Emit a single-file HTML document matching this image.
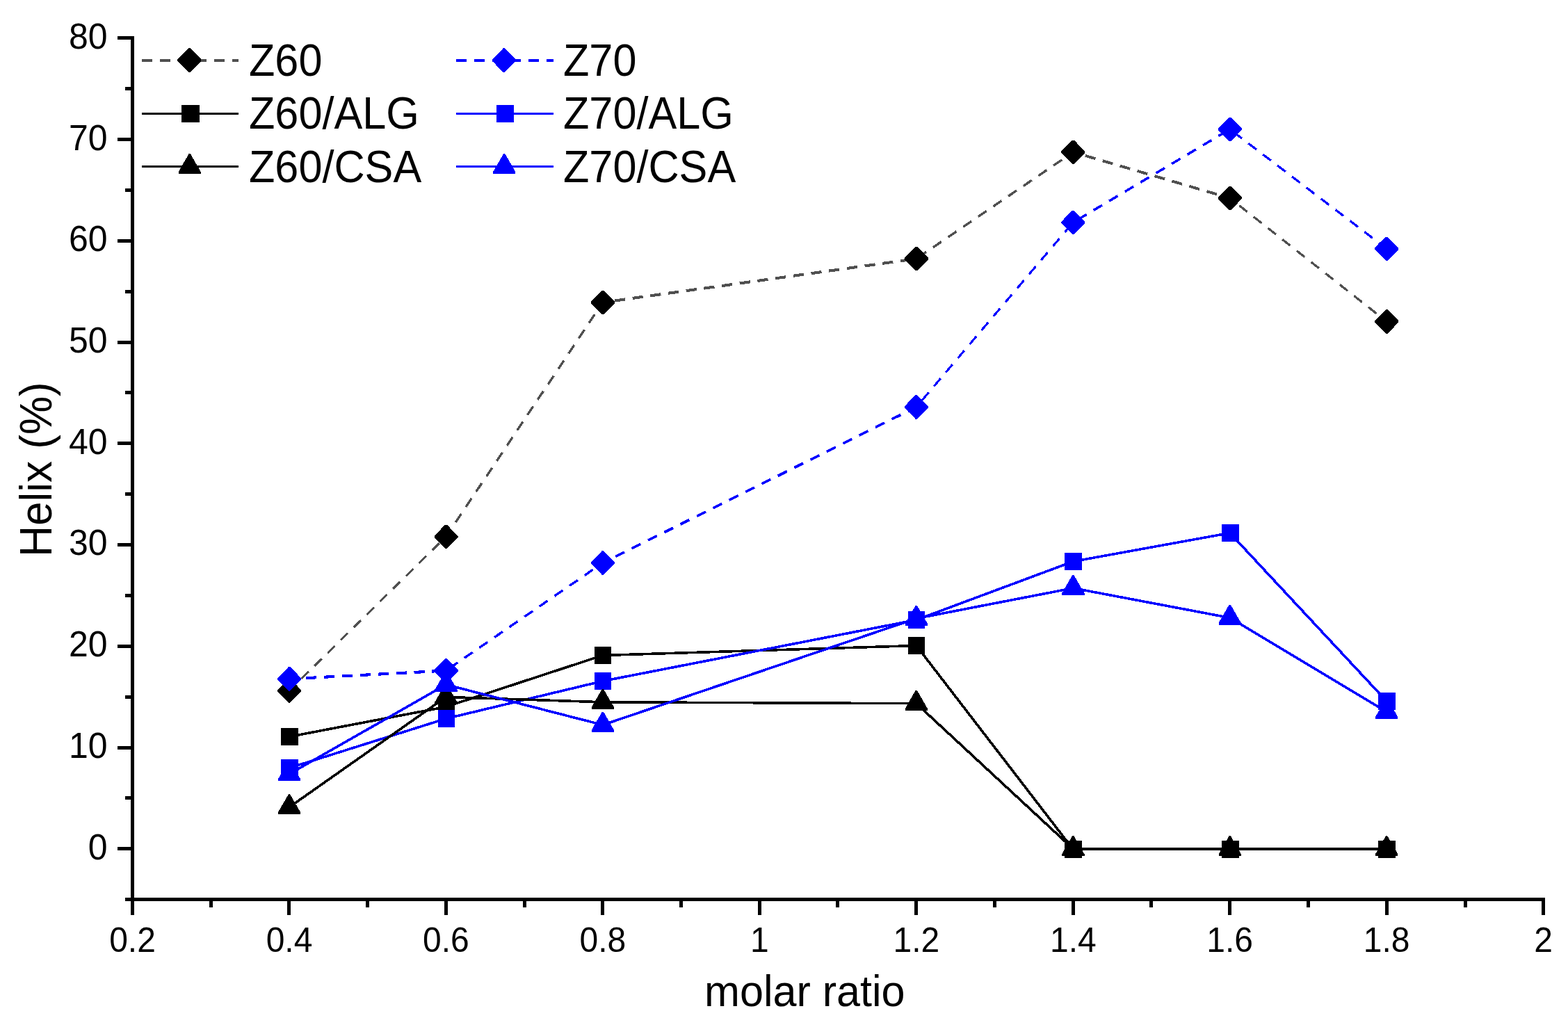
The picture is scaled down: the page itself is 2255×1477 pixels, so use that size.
<!DOCTYPE html>
<html lang="en"><head><meta charset="utf-8"><title>Helix (%) vs molar ratio</title>
<style>html,body{margin:0;padding:0;background:#fff}body{width:2255px;height:1477px;overflow:hidden}svg{display:block}</style>
</head><body>
<svg width="2255" height="1477" viewBox="0 0 2255 1477">
<rect width="2255" height="1477" fill="#fff"/>
<g shape-rendering="crispEdges">
<g transform="scale(1 1.035)" fill="none" stroke="#505050">
<line x1="416.0" y1="959.81" x2="641.4" y2="745.80" stroke-width="3.00" stroke-dasharray="14.3 11.62" stroke-dashoffset="1.70"/>
<line x1="641.4" y1="745.80" x2="866.9" y2="420.19" stroke-width="3.32" stroke-dasharray="14.3 11.62" stroke-dashoffset="1.52"/>
<line x1="866.9" y1="420.19" x2="1317.8" y2="359.52" stroke-width="3.96" stroke-dasharray="15.2 10.72" stroke-dashoffset="8.76"/>
<line x1="1317.8" y1="359.52" x2="1543.3" y2="211.40" stroke-width="3.31" stroke-dasharray="14.3 11.62" stroke-dashoffset="23.10"/>
<line x1="1543.3" y1="211.40" x2="1768.7" y2="275.27" stroke-width="3.84" stroke-dasharray="15.2 10.72" stroke-dashoffset="7.74"/>
<line x1="1768.7" y1="275.27" x2="1994.2" y2="446.76" stroke-width="3.14" stroke-dasharray="14.3 11.62" stroke-dashoffset="8.80"/>
</g>
<path d="M414.9 976.1L417.3 976.1L433.1 992.2L433.1 994.6L417.3 1010.7L414.9 1010.7L399.1 994.6L399.1 992.2Z" fill="#000"/>
<path d="M640.3 754.6L642.7 754.6L658.5 770.7L658.5 773.1L642.7 789.2L640.3 789.2L624.5 773.1L624.5 770.7Z" fill="#000"/>
<path d="M865.8 417.6L868.2 417.6L884.0 433.7L884.0 436.1L868.2 452.2L865.8 452.2L850.0 436.1L850.0 433.7Z" fill="#000"/>
<path d="M1316.7 354.8L1319.1 354.8L1334.9 370.9L1334.9 373.3L1319.1 389.4L1316.7 389.4L1300.9 373.3L1300.9 370.9Z" fill="#000"/>
<path d="M1542.2 201.5L1544.6 201.5L1560.4 217.6L1560.4 220.0L1544.6 236.1L1542.2 236.1L1526.4 220.0L1526.4 217.6Z" fill="#000"/>
<path d="M1767.6 267.6L1770.0 267.6L1785.8 283.7L1785.8 286.1L1770.0 302.2L1767.6 302.2L1751.8 286.1L1751.8 283.7Z" fill="#000"/>
<path d="M1993.1 445.1L1995.5 445.1L2011.3 461.2L2011.3 463.6L1995.5 479.7L1993.1 479.7L1977.3 463.6L1977.3 461.2Z" fill="#000"/>
<g transform="scale(1 1.035)" fill="none" stroke="#00f">
<line x1="416.0" y1="943.38" x2="641.4" y2="931.88" stroke-width="3.99" stroke-dasharray="15.2 10.72" stroke-dashoffset="1.70"/>
<line x1="641.4" y1="931.88" x2="866.9" y2="782.13" stroke-width="3.30" stroke-dasharray="14.3 11.62" stroke-dashoffset="20.09"/>
<line x1="866.9" y1="782.13" x2="1317.8" y2="565.60" stroke-width="3.58" stroke-dasharray="14.3 11.62" stroke-dashoffset="5.64"/>
<line x1="1317.8" y1="565.60" x2="1543.3" y2="309.08" stroke-width="3.05" stroke-dasharray="14.3 11.62" stroke-dashoffset="13.37"/>
<line x1="1543.3" y1="309.08" x2="1768.7" y2="179.61" stroke-width="3.44" stroke-dasharray="14.3 11.62" stroke-dashoffset="17.93"/>
<line x1="1768.7" y1="179.61" x2="1994.2" y2="345.70" stroke-width="3.18" stroke-dasharray="14.3 11.62" stroke-dashoffset="18.72"/>
</g>
<path d="M414.9 959.1L417.3 959.1L433.1 975.2L433.1 977.6L417.3 993.7L414.9 993.7L399.1 977.6L399.1 975.2Z" fill="#00f"/>
<path d="M640.3 947.2L642.7 947.2L658.5 963.3L658.5 965.7L642.7 981.8L640.3 981.8L624.5 965.7L624.5 963.3Z" fill="#00f"/>
<path d="M865.8 792.2L868.2 792.2L884.0 808.3L884.0 810.7L868.2 826.8L865.8 826.8L850.0 810.7L850.0 808.3Z" fill="#00f"/>
<path d="M1316.7 568.1L1319.1 568.1L1334.9 584.2L1334.9 586.6L1319.1 602.7L1316.7 602.7L1300.9 586.6L1300.9 584.2Z" fill="#00f"/>
<path d="M1542.2 302.6L1544.6 302.6L1560.4 318.7L1560.4 321.1L1544.6 337.2L1542.2 337.2L1526.4 321.1L1526.4 318.7Z" fill="#00f"/>
<path d="M1767.6 168.6L1770.0 168.6L1785.8 184.7L1785.8 187.1L1770.0 203.2L1767.6 203.2L1751.8 187.1L1751.8 184.7Z" fill="#00f"/>
<path d="M1993.1 340.5L1995.5 340.5L2011.3 356.6L2011.3 359.0L1995.5 375.1L1993.1 375.1L1977.3 359.0L1977.3 356.6Z" fill="#00f"/>
<polyline points="416.0,1059.5 641.4,1016.5 866.9,942.5 1317.8,928.5 1543.3,1221.5 1768.7,1221.5 1994.2,1221.5" fill="none" stroke="#000" stroke-width="3.6" stroke-linejoin="round"/>
<rect x="404" y="1047" width="25" height="25" fill="#000"/>
<rect x="630" y="1004" width="24" height="25" fill="#000"/>
<rect x="855" y="930" width="24" height="25" fill="#000"/>
<rect x="1306" y="916" width="24" height="25" fill="#000"/>
<rect x="1531" y="1209" width="25" height="25" fill="#000"/>
<rect x="1757" y="1209" width="25" height="25" fill="#000"/>
<rect x="1982" y="1209" width="25" height="25" fill="#000"/>
<polyline points="416.0,1104.5 641.4,1033.5 866.9,979.5 1317.8,891.5 1543.3,807.5 1768.7,766.5 1994.2,1008.5" fill="none" stroke="#00f" stroke-width="3.6" stroke-linejoin="round"/>
<rect x="404" y="1092" width="25" height="25" fill="#00f"/>
<rect x="630" y="1021" width="24" height="25" fill="#00f"/>
<rect x="855" y="967" width="24" height="25" fill="#00f"/>
<rect x="1306" y="879" width="24" height="25" fill="#00f"/>
<rect x="1531" y="795" width="25" height="25" fill="#00f"/>
<rect x="1757" y="754" width="25" height="25" fill="#00f"/>
<rect x="1982" y="996" width="25" height="25" fill="#00f"/>
<polyline points="416.0,1160.9 641.4,1002.4 866.9,1009.8 1317.8,1011.7 1543.3,1220.9 1768.7,1220.9 1994.2,1220.9" fill="none" stroke="#000" stroke-width="3.6" stroke-linejoin="round"/>
<path d="M415.0 1142.0L417.0 1142.0L432.2 1168.3L432.2 1171.1L399.8 1171.1L399.8 1168.3Z" fill="#000"/>
<path d="M640.4 983.5L642.4 983.5L657.6 1009.8L657.6 1012.6L625.2 1012.6L625.2 1009.8Z" fill="#000"/>
<path d="M865.9 990.9L867.9 990.9L883.1 1017.2L883.1 1020.0L850.7 1020.0L850.7 1017.2Z" fill="#000"/>
<path d="M1316.8 992.8L1318.8 992.8L1334.0 1019.1L1334.0 1021.9L1301.6 1021.9L1301.6 1019.1Z" fill="#000"/>
<path d="M1542.3 1202.0L1544.3 1202.0L1559.5 1228.3L1559.5 1231.1L1527.1 1231.1L1527.1 1228.3Z" fill="#000"/>
<path d="M1767.7 1202.0L1769.7 1202.0L1784.9 1228.3L1784.9 1231.1L1752.5 1231.1L1752.5 1228.3Z" fill="#000"/>
<path d="M1993.2 1202.0L1995.2 1202.0L2010.4 1228.3L2010.4 1231.1L1978.0 1231.1L1978.0 1228.3Z" fill="#000"/>
<polyline points="416.0,1113.2 641.4,984.6 866.9,1042.6 1317.8,889.5 1543.3,845.8 1768.7,888.5 1994.2,1023.7" fill="none" stroke="#00f" stroke-width="3.6" stroke-linejoin="round"/>
<path d="M415.0 1094.3L417.0 1094.3L432.2 1120.6L432.2 1123.4L399.8 1123.4L399.8 1120.6Z" fill="#00f"/>
<path d="M640.4 965.7L642.4 965.7L657.6 992.0L657.6 994.8L625.2 994.8L625.2 992.0Z" fill="#00f"/>
<path d="M865.9 1023.7L867.9 1023.7L883.1 1050.0L883.1 1052.8L850.7 1052.8L850.7 1050.0Z" fill="#00f"/>
<path d="M1316.8 870.6L1318.8 870.6L1334.0 896.9L1334.0 899.7L1301.6 899.7L1301.6 896.9Z" fill="#00f"/>
<path d="M1542.3 826.9L1544.3 826.9L1559.5 853.2L1559.5 856.0L1527.1 856.0L1527.1 853.2Z" fill="#00f"/>
<path d="M1767.7 869.6L1769.7 869.6L1784.9 895.9L1784.9 898.7L1752.5 898.7L1752.5 895.9Z" fill="#00f"/>
<path d="M1993.2 1004.8L1995.2 1004.8L2010.4 1031.1L2010.4 1033.9L1978.0 1033.9L1978.0 1031.1Z" fill="#00f"/>
</g>
<g fill="#000" shape-rendering="crispEdges">
<rect x="188" y="52" width="5" height="1264"/>
<rect x="180" y="1291" width="2042" height="5"/>
<rect x="169" y="1218" width="21" height="5"/>
<rect x="169" y="1073" width="21" height="5"/>
<rect x="169" y="927" width="21" height="5"/>
<rect x="169" y="781" width="21" height="5"/>
<rect x="169" y="635" width="21" height="5"/>
<rect x="169" y="490" width="21" height="5"/>
<rect x="169" y="344" width="21" height="5"/>
<rect x="169" y="198" width="21" height="5"/>
<rect x="169" y="52" width="21" height="5"/>
<rect x="180" y="1145" width="10" height="5"/>
<rect x="180" y="1000" width="10" height="5"/>
<rect x="180" y="854" width="10" height="5"/>
<rect x="180" y="708" width="10" height="5"/>
<rect x="180" y="562" width="10" height="5"/>
<rect x="180" y="417" width="10" height="5"/>
<rect x="180" y="271" width="10" height="5"/>
<rect x="180" y="125" width="10" height="5"/>
<rect x="413" y="1293" width="5" height="23"/>
<rect x="639" y="1293" width="5" height="23"/>
<rect x="864" y="1293" width="5" height="23"/>
<rect x="1090" y="1293" width="5" height="23"/>
<rect x="1315" y="1293" width="5" height="23"/>
<rect x="1541" y="1293" width="5" height="23"/>
<rect x="1766" y="1293" width="5" height="23"/>
<rect x="1992" y="1293" width="5" height="23"/>
<rect x="2217" y="1293" width="5" height="23"/>
<rect x="301" y="1293" width="5" height="12"/>
<rect x="526" y="1293" width="5" height="12"/>
<rect x="752" y="1293" width="5" height="12"/>
<rect x="977" y="1293" width="5" height="12"/>
<rect x="1202" y="1293" width="5" height="12"/>
<rect x="1428" y="1293" width="5" height="12"/>
<rect x="1653" y="1293" width="5" height="12"/>
<rect x="1879" y="1293" width="5" height="12"/>
<rect x="2105" y="1293" width="5" height="12"/>
</g>
<g font-family="'Liberation Sans', sans-serif" fill="#000">
<text transform="translate(154.6 1235.5) scale(1 1.026)" font-size="50" text-anchor="end">0</text>
<text transform="translate(154.6 1089.8) scale(1 1.026)" font-size="50" text-anchor="end">10</text>
<text transform="translate(154.6 944.1) scale(1 1.026)" font-size="50" text-anchor="end">20</text>
<text transform="translate(154.6 798.4) scale(1 1.026)" font-size="50" text-anchor="end">30</text>
<text transform="translate(154.6 652.7) scale(1 1.026)" font-size="50" text-anchor="end">40</text>
<text transform="translate(154.6 507.0) scale(1 1.026)" font-size="50" text-anchor="end">50</text>
<text transform="translate(154.6 361.3) scale(1 1.026)" font-size="50" text-anchor="end">60</text>
<text transform="translate(154.6 215.6) scale(1 1.026)" font-size="50" text-anchor="end">70</text>
<text transform="translate(154.6 69.9) scale(1 1.026)" font-size="50" text-anchor="end">80</text>
<text transform="translate(190.5 1368.8) scale(1 1.026)" font-size="48" text-anchor="middle">0.2</text>
<text transform="translate(416.0 1368.8) scale(1 1.026)" font-size="48" text-anchor="middle">0.4</text>
<text transform="translate(641.4 1368.8) scale(1 1.026)" font-size="48" text-anchor="middle">0.6</text>
<text transform="translate(866.9 1368.8) scale(1 1.026)" font-size="48" text-anchor="middle">0.8</text>
<text transform="translate(1092.3 1368.8) scale(1 1.026)" font-size="48" text-anchor="middle">1</text>
<text transform="translate(1317.8 1368.8) scale(1 1.026)" font-size="48" text-anchor="middle">1.2</text>
<text transform="translate(1543.3 1368.8) scale(1 1.026)" font-size="48" text-anchor="middle">1.4</text>
<text transform="translate(1768.7 1368.8) scale(1 1.026)" font-size="48" text-anchor="middle">1.6</text>
<text transform="translate(1994.2 1368.8) scale(1 1.026)" font-size="48" text-anchor="middle">1.8</text>
<text transform="translate(2219.6 1368.8) scale(1 1.026)" font-size="48" text-anchor="middle">2</text>
<text transform="translate(1157.3 1447.0) scale(1 1.02)" font-size="61.1" text-anchor="middle">molar ratio</text>
<text transform="translate(74.0 675.0) rotate(-90) scale(1 1.057)" font-size="62" text-anchor="middle">Helix (%)</text>
</g>
<g font-family="'Liberation Sans', sans-serif" fill="#000">
<g shape-rendering="crispEdges"><line x1="204.2" y1="87.0" x2="342.8" y2="87.0" stroke="#505050" stroke-width="4" stroke-dasharray="15 10.9"/>
<path d="M271.2 69.3L273.6 69.3L289.4 85.4L289.4 87.8L273.6 103.9L271.2 103.9L255.4 87.8L255.4 85.4Z" fill="#000"/></g>
<text transform="translate(358.0 108.5) scale(1 1.049)" font-size="61.2" text-anchor="start">Z60</text>
<g shape-rendering="crispEdges"><line x1="204.2" y1="163.5" x2="342.8" y2="163.5" stroke="#000" stroke-width="3"/>
<rect x="261" y="151" width="26" height="25" fill="#000"/></g>
<text transform="translate(358.0 185.4) scale(1 1.049)" font-size="61.2" text-anchor="start">Z60/ALG</text>
<g shape-rendering="crispEdges"><line x1="204.2" y1="239.5" x2="342.8" y2="239.5" stroke="#000" stroke-width="3"/>
<path d="M271.7 221.0L273.7 221.0L288.9 247.3L288.9 250.1L256.5 250.1L256.5 247.3Z" fill="#000"/></g>
<text transform="translate(358.0 261.8) scale(1 1.049)" font-size="61.2" text-anchor="start">Z60/CSA</text>
<g shape-rendering="crispEdges"><line x1="656.2" y1="87.0" x2="795.8" y2="87.0" stroke="#00f" stroke-width="4" stroke-dasharray="15 10.9"/>
<path d="M723.7 69.3L726.1 69.3L741.9 85.4L741.9 87.8L726.1 103.9L723.7 103.9L707.9 87.8L707.9 85.4Z" fill="#00f"/></g>
<text transform="translate(810.0 108.5) scale(1 1.049)" font-size="61.2" text-anchor="start">Z70</text>
<g shape-rendering="crispEdges"><line x1="656.2" y1="163.5" x2="795.8" y2="163.5" stroke="#00f" stroke-width="3"/>
<rect x="714" y="151" width="25" height="25" fill="#00f"/></g>
<text transform="translate(810.0 185.4) scale(1 1.049)" font-size="61.2" text-anchor="start">Z70/ALG</text>
<g shape-rendering="crispEdges"><line x1="656.2" y1="239.5" x2="795.8" y2="239.5" stroke="#00f" stroke-width="3"/>
<path d="M724.2 221.0L726.2 221.0L741.4 247.3L741.4 250.1L709.0 250.1L709.0 247.3Z" fill="#00f"/></g>
<text transform="translate(810.0 261.8) scale(1 1.049)" font-size="61.2" text-anchor="start">Z70/CSA</text>
</g>
</svg>
</body></html>
